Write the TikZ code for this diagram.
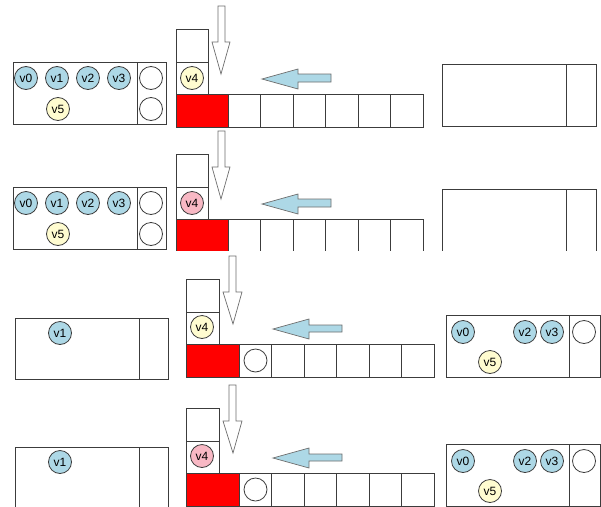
\documentclass[tikz,border=0pt]{standalone}
\usepackage{fontspec}
\setmainfont{Liberation Sans}
\definecolor{nodeblue}{RGB}{173,216,230}
\definecolor{nodecream}{RGB}{255,252,208}
\definecolor{nodepink}{RGB}{248,184,196}
\definecolor{linegray}{RGB}{60,60,60}
\definecolor{arrowgray}{RGB}{110,110,110}
\tikzset{
  box/.style={draw=linegray, line width=0.9pt},
  vnode/.style={circle, draw=linegray, line width=0.8pt, minimum size=23pt, inner sep=0pt, font=\fontsize{12}{12}\selectfont},
  vb/.style={vnode, fill=nodeblue},
  vy/.style={vnode, fill=nodecream},
  vp/.style={vnode, fill=nodepink},
  slot/.style={circle, draw=linegray, line width=0.8pt, minimum size=23pt, inner sep=0pt, fill=white},
  redcell/.style={fill=red, draw=linegray, line width=0.9pt},
  downarrow/.style={draw=arrowgray, fill=white, line width=0.7pt},
  bluearrow/.style={draw=arrowgray, fill=nodeblue, line width=0.7pt}
}
% panel type A: #1 name prefix, #2 style of v4
\newcommand{\panelAdraw}[2]{%
  \draw[box] (13,62) rectangle (166,124) (137,62) -- (137,124);
  \node[slot] (#1s1) at (151,78) {};
  \node[slot] (#1s2) at (151,109) {};
  \node[vb] (#1v0) at (26,78) {v0};
  \node[vb] (#1v1) at (57,78) {v1};
  \node[vb] (#1v2) at (88,78) {v2};
  \node[vb] (#1v3) at (119,78) {v3};
  \node[vy] (#1v5) at (58,109) {v5};
  \draw[box] (176,29) rectangle (208,62);
  \draw[box] (176,62) rectangle (208,94);
  \node[#2] (#1v4) at (192,78) {v4};
  \foreach \i in {0,...,5} \draw[box] ({228+32.5*\i},94) rectangle ({260.5+32.5*\i},127);
  \draw[redcell] (176,94) rectangle (228,127);
  \draw[downarrow] (218,6) -- (225,6) -- (225,42) -- (230,42) -- (221,74) -- (212,42) -- (218,42) -- cycle;
  \draw[bluearrow] (262,79) -- (298,69) -- (298,74) -- (331,74) -- (331,82) -- (298,82) -- (298,89) -- cycle;
  \draw[box] (442,64) rectangle (596,126) (566,64) -- (566,126);
}
% panel type B
\newcommand{\panelBdraw}[2]{%
  \draw[box] (15,318) rectangle (168,379) (139,318) -- (139,379);
  \node[vb] (#1v1) at (60,333) {v1};
  \draw[box] (186,279) rectangle (219,312);
  \draw[box] (186,312) rectangle (219,344);
  \node[#2] (#1v4) at (202,327) {v4};
  \foreach \i in {0,...,5} \draw[box] ({239+32.5*\i},344) rectangle ({271.5+32.5*\i},377);
  \draw[redcell] (186,344) rectangle (239,377);
  \node[slot] (#1c) at (255.5,360.5) {};
  \draw[downarrow] (229,256) -- (236,256) -- (236,292) -- (242,292) -- (233,324) -- (223,292) -- (229,292) -- cycle;
  \draw[bluearrow] (273,329) -- (309,319) -- (309,325) -- (342,325) -- (342,332) -- (309,332) -- (309,339) -- cycle;
  \draw[box] (446,315) rectangle (600,377) (569,315) -- (569,377);
  \node[slot] (#1s1) at (584,332) {};
  \node[vb] (#1v0) at (463,332) {v0};
  \node[vb] (#1v2) at (525,332) {v2};
  \node[vb] (#1v3) at (552,332) {v3};
  \node[vy] (#1v5) at (490,362) {v5};
}
\begin{document}
\begin{tikzpicture}[x=1pt,y=-1pt]
\useasboundingbox (0,0) rectangle (601,506);
\clip (0,0) rectangle (601,506);
\fill[white] (0,0) rectangle (601,506);
\panelAdraw{a}{vy}
\begin{scope}[shift={(0,125)}]
  \clip (-5,-130) rectangle (610,125);
  \panelAdraw{b}{vp}
\end{scope}
\panelBdraw{c}{vy}
\begin{scope}[shift={(0,129)}]
  \panelBdraw{d}{vp}
\end{scope}
\end{tikzpicture}
\end{document}
